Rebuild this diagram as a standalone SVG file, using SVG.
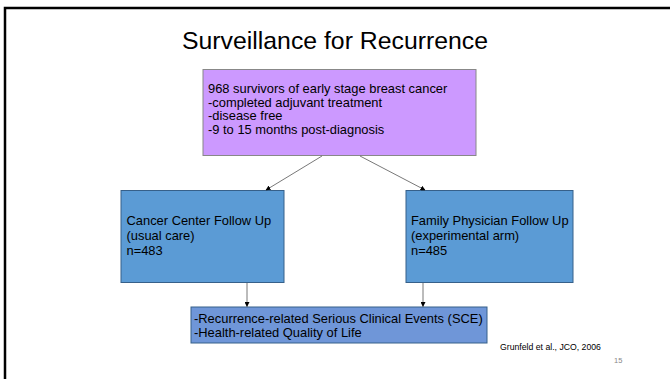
<svg xmlns="http://www.w3.org/2000/svg" width="670" height="379" viewBox="0 0 670 379">
<defs>
<style>
text{font-family:"Liberation Sans",Arial,sans-serif;fill:#000}
.box text{font-size:12.9px}
.conn line{stroke:#555;stroke-width:0.8}
</style>
<marker id="ah" viewBox="0 0 10 10" refX="9" refY="5" markerWidth="5" markerHeight="5" orient="auto-start-reverse" markerUnits="userSpaceOnUse">
<path d="M0,0 L10,5 L0,10 z" fill="#000"/>
</marker>
</defs>
<rect width="670" height="379" fill="#fff"/>
<path d="M5,379 V8 H670" fill="none" stroke="#000" stroke-width="2.5"/>
<text x="335" y="49" font-size="24.8" text-anchor="middle">Surveillance for Recurrence</text>
<g id="top" class="box">
<rect x="203" y="69.5" width="273" height="86" fill="#cc99ff" stroke="#888" stroke-width="1"/>
<text x="208" y="93">968 survivors of early stage breast cancer</text>
<text x="208" y="106.5">-completed adjuvant treatment</text>
<text x="208" y="120">-disease free</text>
<text x="208" y="133.5">-9 to 15 months post-diagnosis</text>
</g>
<g id="left" class="box">
<rect x="121" y="190.5" width="163" height="92" fill="#5b9bd5" stroke="#36608a" stroke-width="1"/>
<text x="126.5" y="225">Cancer Center Follow Up</text>
<text x="126.5" y="240">(usual care)</text>
<text x="126.5" y="255">n=483</text>
</g>
<g id="right" class="box">
<rect x="406" y="190.5" width="167" height="92" fill="#5b9bd5" stroke="#36608a" stroke-width="1"/>
<text x="411" y="225">Family Physician Follow Up</text>
<text x="411" y="240">(experimental arm)</text>
<text x="411" y="255">n=485</text>
</g>
<g id="outcome" class="box">
<rect x="191" y="307" width="296" height="36" fill="#6f96d8" stroke="#36608a" stroke-width="1"/>
<text x="194" y="323">-Recurrence-related Serious Clinical Events (SCE)</text>
<text x="194" y="337">-Health-related Quality of Life</text>
</g>
<g class="conn">
<line x1="322" y1="156" x2="266" y2="190" marker-end="url(#ah)"/>
<line x1="360" y1="156" x2="425" y2="190" marker-end="url(#ah)"/>
<line x1="247" y1="283" x2="247" y2="306.5" marker-end="url(#ah)"/>
<line x1="423" y1="283" x2="423" y2="306.5" marker-end="url(#ah)"/>
</g>
<text x="500" y="350" font-size="8.7">Grunfeld et al., JCO, 2006</text>
<text x="614" y="363" font-size="7.5" style="fill:#888">15</text>
</svg>
